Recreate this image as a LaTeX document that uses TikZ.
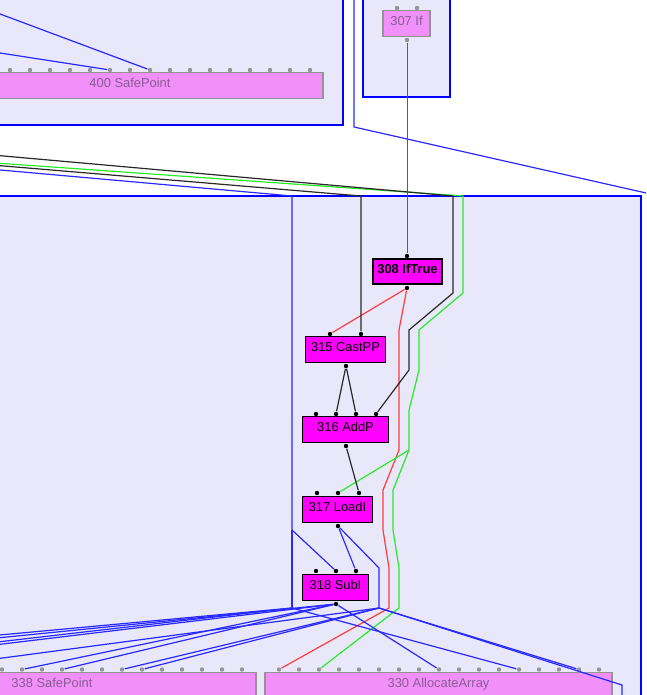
\documentclass[tikz,border=0pt]{standalone}
\usepackage{fontspec}
\setmainfont{Liberation Sans}
\definecolor{grpfill}{RGB}{232,232,250}
\definecolor{onfill}{RGB}{255,0,255}
\definecolor{offfill}{RGB}{240,144,248}
\definecolor{offtext}{RGB}{140,92,152}
\definecolor{offgray}{RGB}{148,148,148}
\definecolor{edgeblue}{RGB}{40,40,255}
\definecolor{edgered}{RGB}{255,60,60}
\definecolor{edgegreen}{RGB}{40,235,40}
\definecolor{edgeblack}{RGB}{40,40,40}
\definecolor{edgemag}{RGB}{225,0,225}

\begin{document}
\begin{tikzpicture}[x=1pt, y=-1pt, line width=1.2pt,
    grp/.style={draw=blue, fill=grpfill, line width=1.6pt},
    opbox/.style={draw=black, fill=onfill, line width=1.1pt, inner sep=0pt,
      minimum height=26pt, text height=9.3pt, text depth=4.5pt,
      font=\fontsize{12.9}{15}\selectfont},
    opfade/.style={opbox, draw=offgray, fill=offfill, text=offtext},
    slotdot/.style={circle, fill=black, inner sep=0pt, minimum size=4.4pt},
    slotfade/.style={slotdot, fill=offgray},
    eblue/.style={draw=edgeblue}, ered/.style={draw=edgered},
    egreen/.style={draw=edgegreen}, eblack/.style={draw=edgeblack},
    emag/.style={draw=edgemag, line width=0.8pt}]
  \useasboundingbox (0,0) rectangle (646,695);
  \clip (0,0) rectangle (646,695);
  % ---- groups ---------------------------------------------------------
  \draw[grp] (-10,-10) rectangle (343,125);
  \draw[grp] (363,-10) rectangle (450,97);
  \draw[grp] (-10,196) rectangle (641,710);
  % ---- nodes ----------------------------------------------------------
  \node[opfade, minimum width=386pt] (n400) at (130,85.5) {400 SafePoint};
  \node[opfade, minimum width=47pt] (n307) at (406.5,23.5) {307 If};
  \node[opbox, line width=2.4pt, minimum width=68.6pt, minimum height=24.6pt,
    font=\fontsize{12.9}{15}\selectfont\bfseries] (n308) at (407.5,271.5) {308 IfTrue};
  \node[opbox, minimum width=80pt] (n315) at (345.5,349.5) {315 CastPP};
  \node[opbox, minimum width=86pt] (n316) at (345.5,429.5) {316 AddP};
  \node[opbox, minimum width=70pt] (n317) at (337.5,509.5) {317 LoadI};
  \node[opbox, minimum width=66pt] (n318) at (335.5,587.5) {318 SubI};
  \node[opfade, minimum width=408pt] (n338) at (52,685.5) {338 SafePoint};
  \node[opfade, minimum width=347pt] (n330) at (438.5,685.5) {330 AllocateArray};
  % ---- slots ----------------------------------------------------------
  \foreach \i in {0,...,15} \node[slotfade] (s400-\i) at (10+20*\i,70) {};
  \foreach \i in {0,...,12} \node[slotfade] (s338-\i) at (2+20*\i,669.5) {};
  \foreach \i in {0,...,16} \node[slotfade] (s330-\i) at (279+20*\i,669.5) {};
  \foreach \n/\x/\y in {s307i1/397/8, s307i2/417/8, s307o/407/40}
    \node[slotfade] (\n) at (\x,\y) {};
  \foreach \n/\x/\y in {s308i/407/256, s308o/407/288,
      s315i1/330/334, s315i2/361/334, s315o/346/366,
      s316i1/316/414, s316i2/336/414, s316i3/356/414, s316i4/376/414, s316o/346/446,
      s317i1/317/493, s317i2/338/493, s317i3/359/493, s317o/338/526,
      s318i1/316/571, s318i2/336/571, s318i3/356/571, s318o/336/604}
    \node[slotdot] (\n) at (\x,\y) {};
  % ---- free ends and splits ---------------------------------------------
  \coordinate (wK1) at (-20,153.9);
  \coordinate (wG)  at (-20,161.9);
  \coordinate (wK2) at (-20,164.0);
  \coordinate (wB)  at (-20,168.2);
  \coordinate (wT1) at (-20,6.5);
  \coordinate (wT2) at (-20,49.9);
  \coordinate (wF1) at (-20,636.8);
  \coordinate (wF2) at (-20,644.0);
  \coordinate (wF3) at (-20,639.7);
  \coordinate (wF4) at (-20,646.7);
  \coordinate (wF5) at (-20,661.0);
  \coordinate (nT)  at (354,-10);
  \coordinate (eT)  at (670,198.4);
  \coordinate (sE)  at (622,710);
  \coordinate (gSplit) at (409,450);
  \coordinate (bSplit) at (292,530);
  \coordinate (jA) at (292,608);
  \coordinate (jB) at (379,608);
  % ---- edges ----------------------------------------------------------
  \draw[eblue] (wT1) -- (s400-7);
  \draw[eblue] (wT2) -- (s400-5);
  \draw[eblue] (nT) -- (354,127) -- (eT);
  \draw[emag] (s307o) -- (s308i);
  \draw[ered] (s308o) -- (s315i1);
  \draw[ered] (s308o) -- (399,330) -- (399,450) -- (383,490) -- (383,530)
    -- (389,568) -- (389,608) -- (s330-0);
  \draw[egreen] (wG) -- (463,196) -- (463,293) -- (419,330) -- (419,370)
    -- (409,410) -- (gSplit) -- (393,490) -- (393,530) -- (399,568)
    -- (399,608) -- (s330-2);
  \draw[egreen] (gSplit) -- (s317i2);
  \draw[eblack] (wK1) -- (453,196) -- (453,293) -- (409,330) -- (409,370) -- (s316i4);
  \draw[eblack] (wK2) -- (361,196) -- (s315i2);
  \draw[eblack] (s315o) -- (s316i2);
  \draw[eblack] (s315o) -- (s316i3);
  \draw[eblack] (s316o) -- (s317i3);
  \draw[eblue] (s317o) -- (s318i3);
  \draw[eblue] (s317o) -- (379,568) -- (jB);
  \draw[eblue] (wB) -- (292,196) -- (bSplit) -- (s318i2);
  \draw[eblue] (bSplit) -- (jA);
  \foreach \t in {wF1, wF2, s330-12} \draw[eblue] (jA) -- (\t);
  \foreach \t in {s338-1, s338-3, wF3, wF4, s330-8} \draw[eblue] (s318o) -- (\t);
  \foreach \t in {s338-6, s338-7, wF5, s330-15} \draw[eblue] (jB) -- (\t);
  \draw[eblue] (jB) -- (622,685) -- (sE);
\end{tikzpicture}
\end{document}
